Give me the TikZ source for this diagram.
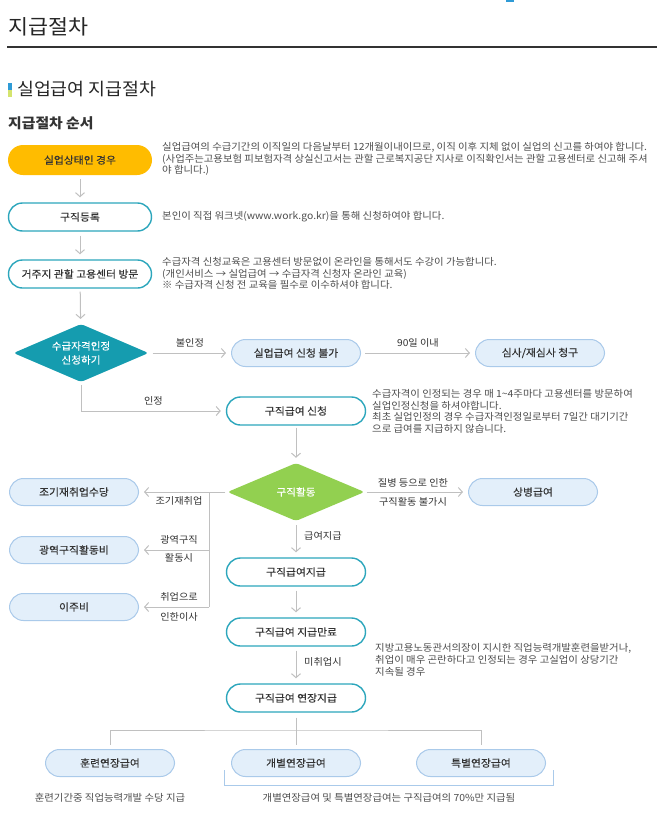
\documentclass[tikz,border=0pt]{standalone}
\usepackage{fontspec}
\setmainfont{Noto Sans CJK KR}[FakeStretch=1.06]
\newfontfamily\boxfont{Noto Sans CJK KR}[FakeStretch=1.06,FakeBold=0.3]
\usetikzlibrary{positioning,calc,arrows.meta,shapes.geometric}
\definecolor{ink}{RGB}{51,51,51}
\definecolor{greytext}{RGB}{78,78,78}
\definecolor{linegray}{RGB}{192,192,192}
\definecolor{tealline}{RGB}{44,166,188}
\definecolor{tealfill}{RGB}{21,156,175}
\definecolor{gold}{RGB}{255,188,0}
\definecolor{paleblue}{RGB}{227,239,250}
\definecolor{paleedge}{RGB}{170,202,234}
\definecolor{leafgreen}{RGB}{146,208,80}
\definecolor{barblue}{RGB}{47,155,214}
\definecolor{barlime}{RGB}{212,228,110}
\tikzset{pill/.style={rounded corners=14pt,minimum height=28pt,inner sep=0pt,text=ink,font=\boxfont\fontsize{10.2}{12}\selectfont}}
\tikzset{ypill/.style={pill,fill=gold,minimum width=144pt,minimum height=30pt,rounded corners=15pt}}
\tikzset{wpill/.style={pill,draw=tealline,line width=1.4pt,fill=white,minimum width=139pt,minimum height=28pt}}
\tikzset{bpill/.style={pill,draw=paleedge,line width=1pt,fill=paleblue,minimum width=129pt,minimum height=27pt}}
\tikzset{decide/.style={diamond,aspect=2.3,inner sep=0pt,minimum width=135pt,minimum height=58pt,rounded corners=3pt,text=white,align=center,font=\boxfont\fontsize{10}{14}\selectfont}}
\tikzset{flow/.style={draw=linegray,line width=1pt,-{Straight Barb[length=4pt,width=9pt]},shorten <=4pt,shorten >=5pt}}
\tikzset{wire/.style={draw=linegray,line width=1pt}}
\tikzset{note/.style={anchor=north west,inner sep=0pt,align=left,text=greytext,font=\fontsize{9.8}{11.8}\selectfont}}
\tikzset{tag/.style={inner sep=0pt,text=ink,font=\fontsize{9.6}{11}\selectfont}}

\begin{document}
\begin{tikzpicture}[x=1pt,y=-1pt]
\fill[white] (0,0) rectangle (657,822);
\useasboundingbox (0,0) rectangle (657,822);

% page heading
\fill[barblue] (506,0) rectangle (514,2);
\node[anchor=west,inner sep=0pt,text=black!85,font=\fontsize{20.5}{24}\selectfont] (title) at (8,27) {지급절차};
\draw[line width=1.2pt,black!80] (7,47) -- (657,47);
\fill[barblue] (8,83) rectangle (12,90);
\fill[barlime] (8,90) rectangle (12,97);
\node[anchor=west,inner sep=0pt,text=black!85,font=\fontsize{17.3}{20}\selectfont] (head) at (17,89) {실업급여 지급절차};
\node[anchor=west,inner sep=0pt,text=ink,font=\fontsize{14}{16}\selectfont\bfseries] (sub) at (8,123) {지급절차 순서};

% left column
\node[ypill] (start) at (80,160) {실업상태인 경우};
\node[wpill,minimum width=143pt] (reg) at (80,217) {구직등록};
\node[wpill,minimum width=143pt] (visit) at (80,274) {거주지 관할 고용센터 방문};
\node[decide,fill=tealfill] (qual) at (81,353) {수급자격인정\\신청하기};

\node[note] (d1) at (162,142) {실업급여의 수급기간의 이직일의 다음날부터 12개월이내이므로, 이직 이후 지체 없이 실업의 신고를 하여야 합니다.\\(사업주는고용보험 피보험자격 상실신고서는 관할 근로복지공단 지사로 이직확인서는 관할 고용센터로 신고해 주셔\\야 합니다.)};
\node[note] (d2) at (162,211) {본인이 직접 워크넷(www.work.go.kr)을 통해 신청하여야 합니다.};
\node[note] (d3) at (162,257) {수급자격 신청교육은 고용센터 방문없이 온라인을 통해서도 수강이 가능합니다.\\(개인서비스 → 실업급여 → 수급자격 신청자 온라인 교육)\\※ 수급자격 신청 전 교육을 필수로 이수하셔야 합니다.};

\draw[flow] (start) -- (reg);
\draw[flow] (reg) -- (visit);
\draw[flow,shorten <=3pt] (visit) -- (qual);

% qualification
\node[bpill] (nopay) at (296,353) {실업급여 신청 불가};
\node[bpill] (appeal) at (540,353) {심사/재심사 청구};
\node[wpill] (apply) at (296,411) {구직급여 신청};
\draw[flow] (qual) -- node[tag,above=5pt] {불인정} (nopay);
\draw[flow] (nopay) -- node[tag,above=5pt] {90일 이내} (appeal);
\draw[flow,shorten <=3pt] (qual.south) |- node[tag,pos=0.75,above=5pt] {인정} (apply.west);
\node[note] (d4) at (372,389) {수급자격이 인정되는 경우 매 1\textasciitilde4주마다 고용센터를 방문하여\\실업인정신청을 하셔야합니다.\\최초 실업인정의 경우 수급자격인정일로부터 7일간 대기기간\\으로 급여를 지급하지 않습니다.};

% job search
\node[decide,fill=leafgreen,minimum width=137pt] (search) at (296,492) {구직활동};
\draw[flow,shorten <=2pt] (apply) -- (search);
\node[bpill] (early) at (74,492) {조기재취업수당};
\node[bpill] (wide) at (74,550) {광역구직활동비};
\node[bpill] (move) at (74,607) {이주비};
\node[bpill] (sick) at (533,492) {상병급여};
\coordinate (split) at (209,492);
\draw[flow,shorten <=2pt] (search) -- (early);
\draw[wire] (split) -- (split |- move);
\draw[flow,shorten <=0pt] (split |- wide) -- (wide);
\draw[flow,shorten <=0pt] (split |- move) -- (move);
\node[tag] at (179,501) {조기재취업};
\node[tag] at (179,540) {광역구직};
\node[tag] at (179,558) {활동시};
\node[tag] at (179,597) {취업으로};
\node[tag] at (179,617) {인한이사};
\draw[flow,shorten <=2pt] (search) -- (sick);
\node[tag] at (413,483) {질병 등으로 인한};
\node[tag] at (413,502) {구직활동 불가시};

% payment
\node[wpill] (pay) at (296,572) {구직급여지급};
\node[wpill] (over) at (296,632) {구직급여 지급만료};
\node[wpill] (ext) at (296,698) {구직급여 연장지급};
\draw[flow] (search) -- (pay);
\node[tag,anchor=west] at (304,536) {급여지급};
\draw[flow] (pay) -- (over);
\draw[flow] (over) -- (ext);
\node[tag,anchor=west] at (304,662) {미취업시};
\node[note] (d5) at (375,643) {지방고용노동관서의장이 지시한 직업능력개발훈련을받거나,\\취업이 매우 곤란하다고 인정되는 경우 고실업이 상당기간\\지속될 경우};

% extension
\node[bpill] (train) at (110,763) {훈련연장급여};
\node[bpill] (indiv) at (296,763) {개별연장급여};
\node[bpill] (special) at (481,763) {특별연장급여};
\coordinate (fork) at (297,730);
\draw[wire,shorten <=5pt,shorten >=4pt] (ext) -- (indiv);
\draw[wire] ([yshift=4pt]train.north) |- (fork) -| ([yshift=4pt]special.north);
\coordinate (bl) at (224,770);
\coordinate (br) at (553,770);
\draw[paleedge,line width=1pt] (bl) -- ++(0,15) -| (br);
\node[tag,text=greytext,font=\fontsize{9.8}{11}\selectfont] (c1) at (110,798) {훈련기간중 직업능력개발 수당 지급};
\node[tag,text=greytext,font=\fontsize{9.8}{11}\selectfont] (c2) at (389,798) {개별연장급여 및 특별연장급여는 구직급여의 70\%만 지급됨};
\end{tikzpicture}
\end{document}
